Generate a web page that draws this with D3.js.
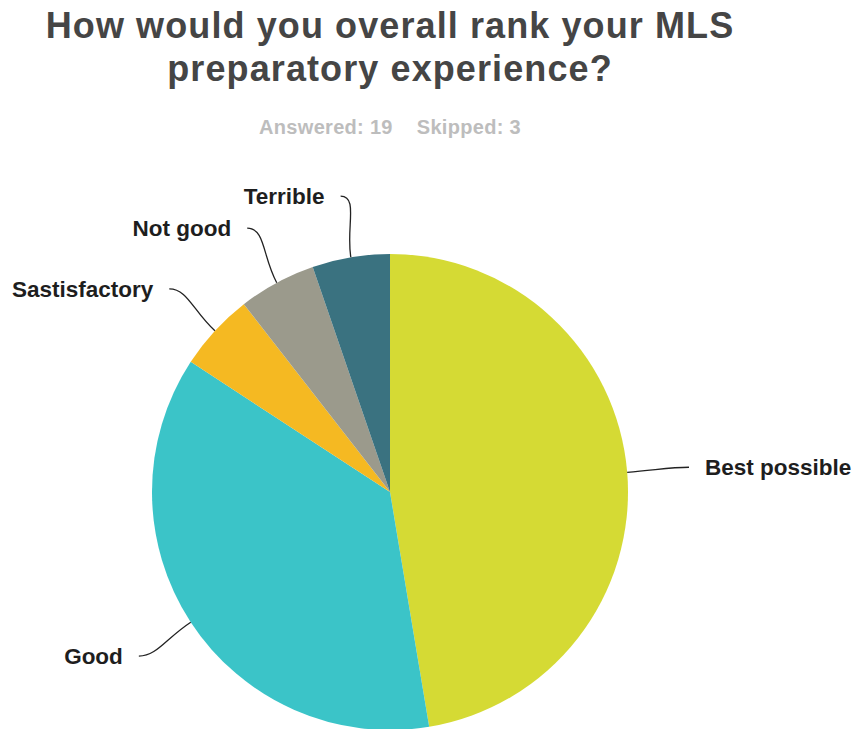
<!DOCTYPE html>
<html lang="en">
<head>
<meta charset="UTF-8">
<title>MLS preparatory experience</title>
<script src="https://d3js.org/d3.v7.min.js"></script>
<style>
  body, html { margin: 0; background: #fff; }
  svg text { font-family: "Liberation Sans", Arial, Helvetica, sans-serif; font-weight: bold; }
</style>
</head>
<body>
<div id="chart"></div>
<script>
// answers, in clockwise order from 12 o'clock
var categories = ["Best possible", "Good", "Sastisfactory", "Not good", "Terrible"];
var counts = [9, 7, 1, 1, 1];
var sliceColors = ["#d5da34", "#3bc4c8", "#f5b922", "#9b9a8c", "#3a7280"];
var titleLines = ["How would you overall rank your MLS", "preparatory experience?"];
var answered = 19, skipped = 3;

var width = 860, height = 729;
var cx = 390, cy = 492, radius = 238;

var svg = d3.select("#chart").append("svg")
    .attr("width", width)
    .attr("height", height);

// title
svg.selectAll(".title")
  .data(titleLines)
  .enter().append("text")
    .attr("class", "title")
    .attr("x", cx)
    .attr("y", function(d, i) { return 38 + i * 43; })
    .attr("text-anchor", "middle")
    .style("font-size", "36px")
    .style("letter-spacing", "1.1px")
    .style("fill", "#454545")
    .text(function(d) { return d; });

var sub = svg.append("text")
    .attr("x", cx)
    .attr("y", 134)
    .attr("text-anchor", "middle")
    .style("font-size", "20px")
    .style("letter-spacing", "0.3px")
    .style("fill", "#bdbdbd");
sub.append("tspan").text("Answered: " + answered);
sub.append("tspan").attr("dx", 24).text("Skipped: " + skipped);

var pie = d3.pie().sort(null).value(function(d) { return d; });
var arcs = pie(counts);
var arc = d3.arc().innerRadius(0).outerRadius(radius);

var g = svg.append("g").attr("transform", "translate(" + cx + "," + cy + ")");

g.selectAll("path.slice")
  .data(arcs)
  .enter().append("path")
    .attr("class", "slice")
    .attr("d", arc)
    .attr("fill", function(d, i) { return sliceColors[i]; });

// leader lines + labels
function polar(a, r) { return [Math.sin(a) * r, -Math.cos(a) * r]; }

arcs.forEach(function(d, i) {
    var mid = (d.startAngle + d.endAngle) / 2;
    var right = Math.sin(mid) > 0;
    var p0 = polar(mid, radius);
    var p1 = polar(mid, radius + 30);
    var p3 = polar(mid, radius + 62);
    var p2 = [p3[0] + (right ? -18 : 18), p3[1]];

    g.append("path")
        .attr("d", "M" + p0 + "C" + p1 + " " + p2 + " " + p3)
        .attr("fill", "none")
        .attr("stroke", "#222")
        .attr("stroke-width", 1.3);

    g.append("text")
        .attr("x", p3[0] + (right ? 16 : -16))
        .attr("y", p3[1] + 8)
        .attr("text-anchor", right ? "start" : "end")
        .style("font-size", "22.5px")
        .style("fill", "#1e1e1e")
        .text(categories[i]);
});
</script>
</body>
</html>
